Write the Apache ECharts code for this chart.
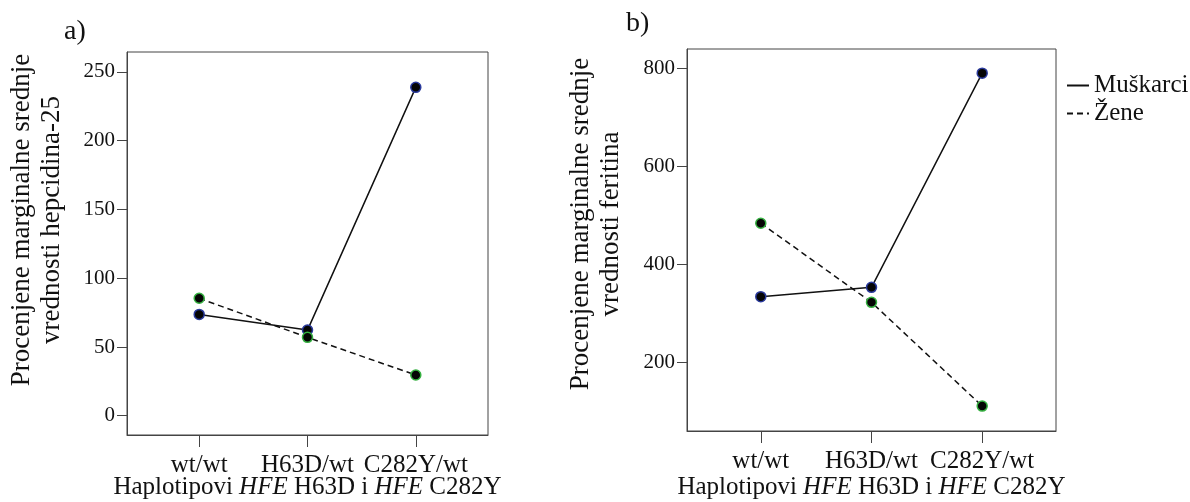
<!DOCTYPE html>
<html>
<head>
<meta charset="utf-8">
<script src="https://cdn.jsdelivr.net/npm/echarts@6/dist/echarts.min.js"></script>
<style>
    html, body { margin: 0; padding: 0; background: #fff; }
    #chart { width: 1190px; height: 502px; }
</style>
</head>
<body>
<div id="chart"></div>
<script>
// haplotype groups on the x axis
var categories = ['wt/wt', 'H63D/wt', 'C282Y/wt'];
var categoryTicks = [0, 1, 2];

// a) hepcidin-25
var hepcidinMen = [73.7, 62.3, 238.8];
var hepcidinWomen = [85.4, 57.0, 29.6];
var hepcidinTicks = [0, 50, 100, 150, 200, 250];

// b) ferritin
var ferritinMen = [333.9, 353.0, 789.8];
var ferritinWomen = [483.7, 322.4, 110.8];
var ferritinTicks = [200, 400, 600, 800];

var seriesNames = ['Muškarci', 'Žene'];

var FONT = '"Liberation Serif", "Times New Roman", serif';
var INK = '#111';
var AXIS = '#444';

function points(values) {
    return values.map(function (v, i) { return [i, v]; });
}

function makeX(gridIndex, nameGap) {
    return {
        type: 'value',
        gridIndex: gridIndex,
        min: -2 / 3,
        max: 2 + 2 / 3,
        splitLine: { show: false },
        axisLine: { show: true, onZero: false, lineStyle: { color: AXIS, width: 1 } },
        axisTick: { show: true, length: 12, customValues: categoryTicks, lineStyle: { color: AXIS, width: 1 } },
        axisLabel: {
            customValues: categoryTicks,
            margin: 18,
            fontFamily: FONT,
            fontSize: 25,
            color: INK,
            formatter: function (v) { return categories[Math.round(v)]; }
        },
        name: '{n|Haplotipovi }{i|HFE}{n| H63D i }{i|HFE}{n| C282Y}',
        nameLocation: 'middle',
        nameGap: nameGap,
        nameMoveOverlap: false,
        nameTextStyle: {
            rich: {
                n: { fontFamily: FONT, fontSize: 25, color: INK },
                i: { fontFamily: FONT, fontSize: 25, color: INK, fontStyle: 'italic' }
            }
        }
    };
}

function makeY(gridIndex, min, max, ticks) {
    return {
        type: 'value',
        gridIndex: gridIndex,
        min: min,
        max: max,
        splitLine: { show: false },
        axisLine: { show: true, onZero: false, lineStyle: { color: AXIS, width: 1 } },
        axisTick: { show: true, length: 10, customValues: ticks, lineStyle: { color: AXIS } },
        axisLabel: { customValues: ticks, margin: 12, fontFamily: FONT, fontSize: 21, color: INK }
    };
}

function makeSeries(name, axisIndex, values, dashed) {
    return {
        name: name,
        type: 'line',
        xAxisIndex: axisIndex,
        yAxisIndex: axisIndex,
        data: points(values),
        symbol: 'circle',
        symbolSize: 10,
        lineStyle: { color: INK, width: 1.5, type: dashed ? [6, 4] : 'solid' },
        itemStyle: {
            color: '#050505',
            borderColor: dashed ? '#35b040' : '#2a3a9c',
            borderWidth: 1.5
        }
    };
}

var chart = echarts.init(document.getElementById('chart'));

chart.setOption({
    animation: false,
    title: [
        { text: 'a)', left: 64, top: 18, padding: 0, textStyle: { fontFamily: FONT, fontSize: 28, fontWeight: 'normal', color: INK } },
        { text: 'b)', left: 626, top: 10, padding: 0, textStyle: { fontFamily: FONT, fontSize: 28, fontWeight: 'normal', color: INK } }
    ],
    grid: [
        { left: 127, top: 52, width: 361, height: 383, outerBoundsMode: 'none', show: true, borderColor: AXIS, borderWidth: 1, backgroundColor: 'transparent' },
        { left: 687, top: 49, width: 369, height: 382, outerBoundsMode: 'none', show: true, borderColor: AXIS, borderWidth: 1, backgroundColor: 'transparent' }
    ],
    xAxis: [makeX(0, 40), makeX(1, 44)],
    yAxis: [
        makeY(0, -14, 264.5, hepcidinTicks),
        makeY(1, 60, 839, ferritinTicks)
    ],
    legend: {
        orient: 'vertical',
        left: 1066,
        top: 73,
        padding: 0,
        itemGap: 3,
        itemWidth: 22,
        itemHeight: 12,
        itemStyle: { opacity: 0 },
        textStyle: { fontFamily: FONT, fontSize: 25, color: INK },
        data: seriesNames
    },
    graphic: [
        {
            type: 'text', x: 37, y: 220, rotation: Math.PI / 2,
            style: {
                text: 'Procenjene marginalne srednje\nvrednosti hepcidina-25',
                fontFamily: FONT, fontSize: 27, lineHeight: 30, fill: INK,
                align: 'center', verticalAlign: 'middle'
            }
        },
        {
            type: 'text', x: 596, y: 224, rotation: Math.PI / 2,
            style: {
                text: 'Procenjene marginalne srednje\nvrednosti feritina',
                fontFamily: FONT, fontSize: 27, lineHeight: 30, fill: INK,
                align: 'center', verticalAlign: 'middle'
            }
        }
    ],
    series: [
        makeSeries(seriesNames[0], 0, hepcidinMen, false),
        makeSeries(seriesNames[1], 0, hepcidinWomen, true),
        makeSeries(seriesNames[0], 1, ferritinMen, false),
        makeSeries(seriesNames[1], 1, ferritinWomen, true)
    ]
});
</script>
</body>
</html>
